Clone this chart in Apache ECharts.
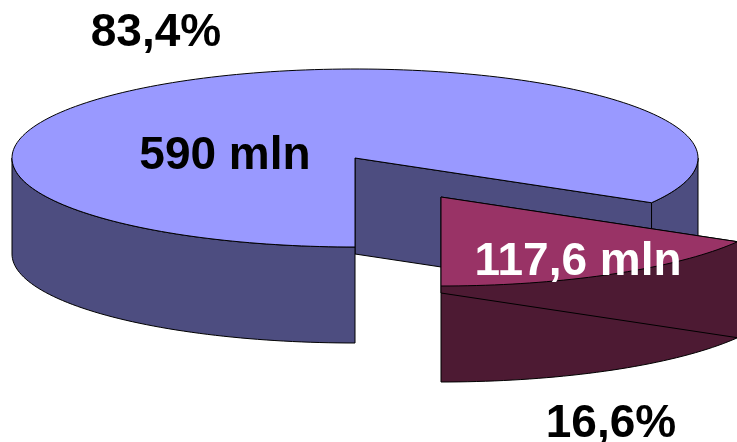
<!DOCTYPE html>
<html><head><meta charset="utf-8">
<style>html,body{margin:0;padding:0;background:#fff}#c{width:737px;height:442px}</style>
<script src="https://cdn.jsdelivr.net/npm/echarts@6/dist/echarts.min.js"></script>
</head><body><div id="c"></div>
<script>
const categories = ['590 mln', '117,6 mln'];
const values = [590, 117.6];
const percentLabels = ['83,4%', '16,6%'];
const topColors = ['#9999FF', '#993366'];
const wallColors = ['#4D4D80', '#4D1A33'];
const labelColors = ['#000000', '#FFFFFF'];

const total = values.reduce((a, b) => a + b, 0);
const cx = 355, cy = 158, rx = 343, ry = 89, depth = 96;
const startClock = 180;            // degrees clockwise from 12 o'clock
const explode = [[0, 0], [86, 39]];
const namePos = [[225, 156], [578, 262]];
const pctPos = [[156, 33], [611, 424]];

function pt(c, deg, dy) {
  const t = deg * Math.PI / 180;
  return [c[0] + rx * Math.sin(t), c[1] - ry * Math.cos(t) + (dy || 0)];
}
function arc(c, a0, a1, dy) {
  const pts = [];
  const n = Math.max(2, Math.ceil(Math.abs(a1 - a0) / 1.5));
  for (let i = 0; i <= n; i++) pts.push(pt(c, a0 + (a1 - a0) * i / n, dy));
  return pts;
}
function poly(points, fill) {
  return { type: 'polygon', shape: { points }, style: { fill, stroke: '#000', lineWidth: 1, lineJoin: 'round' } };
}
function sliceGroup(i, a0, a1) {
  const c = [cx + explode[i][0], cy + explode[i][1]];
  const wall = wallColors[i], top = topColors[i];
  const kids = [];
  // outer wall: only the front half (90..270 clockwise from 12) is visible
  const walls = [[Math.max(a0, 90), Math.min(a1, 270)], [Math.max(a0, 90 + 360), Math.min(a1, 270 + 360)]];
  // inner wall on the closing edge, visible when it faces the viewer
  const apex = c;
  const endPt = pt(c, a1);
  if (i === 0) {
    kids.push(poly([apex, endPt, [endPt[0], endPt[1] + depth], [apex[0], apex[1] + depth]], wall));
  }
  walls.forEach(w => {
    if (w[1] > w[0]) {
      const upper = arc(c, w[0], w[1], 0);
      const lower = arc(c, w[1], w[0], depth);
      kids.push(poly(upper.concat(lower), wall));
    }
  });
  if (i === 1) {
    const s = pt(c, a0);
    kids.push(poly([apex, s, [s[0], s[1] + depth], [apex[0], apex[1] + depth]], wall));
  }
  kids.push(poly([apex].concat(arc(c, a0, a1, 0)), top));
  return { type: 'group', children: kids };
}

const chart = echarts.init(document.getElementById('c'), null, { renderer: 'canvas' });
const font = { fontFamily: '"Liberation Sans", Arial, sans-serif', fontWeight: 'bold', fontSize: 46 };
let acc = 0;
const ranges = values.map(v => { const a0 = startClock + acc / total * 360; acc += v; return [a0, startClock + acc / total * 360]; });
// Main slice ends at 480 (=120 clockwise), the small slice runs 480..540 (=120..180).
chart.setOption({
  animation: false,
  backgroundColor: '#fff',
  series: [{
    type: 'custom',
    coordinateSystem: 'none',
    silent: true,
    data: values.map((v, i) => [v, i]),
    renderItem(params, api) {
      const i = api.value(1);
      const r = ranges[i];
      const g = sliceGroup(i, r[0], r[1]);
      g.children.push({ type: 'text', style: Object.assign({ text: categories[i], x: namePos[i][0], y: namePos[i][1], fill: labelColors[i], align: 'center', verticalAlign: 'middle' }, font) });
      g.children.push({ type: 'text', style: Object.assign({ text: percentLabels[i], x: pctPos[i][0], y: pctPos[i][1], fill: '#000', align: 'center', verticalAlign: 'middle' }, font) });
      return g;
    }
  }]
});
</script></body></html>
